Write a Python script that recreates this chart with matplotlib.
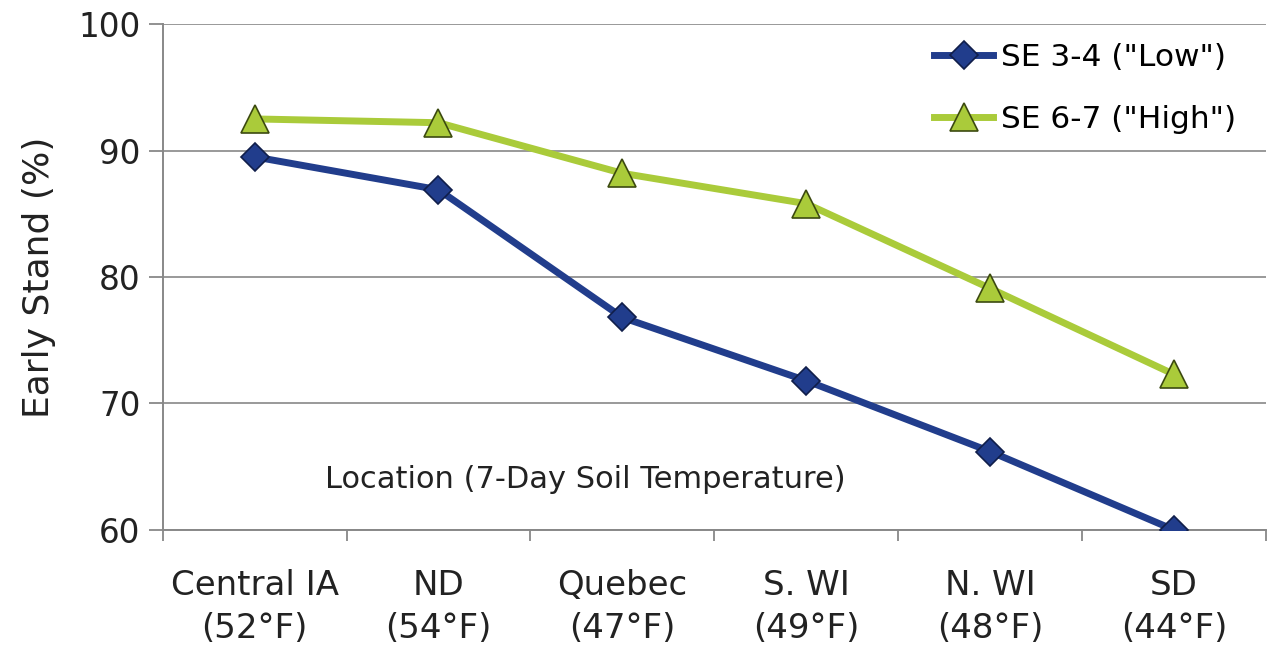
import numpy as np
import matplotlib.pyplot as plt

locations = ["Central IA\n(52°F)", "ND\n(54°F)", "Quebec\n(47°F)",
             "S. WI\n(49°F)", "N. WI\n(48°F)", "SD\n(44°F)"]
low_se = [89.5, 86.9, 76.8, 71.8, 66.2, 60.0]
high_se = [92.5, 92.2, 88.2, 85.8, 79.1, 72.3]

plt.rcParams["font.family"] = "DejaVu Sans"

fig = plt.figure(figsize=(12.71, 6.51), dpi=100)
ax = fig.add_axes([0.128, 0.186, 0.868, 0.777])

x = np.arange(len(locations))
ax.plot(x, low_se, color="#213d8c", lw=5, marker="D", ms=14,
        mfc="#213d8c", mec="#101e4a", mew=1.2, label='SE 3-4 ("Low")', zorder=3)
ax.plot(x, high_se, color="#aacb3a", lw=5, marker="^", ms=20,
        mfc="#aacb3a", mec="#3c4a10", mew=1.2, label='SE 6-7 ("High")', zorder=3)

ax.set_xlim(-0.5, len(locations) - 0.5)
ax.set_ylim(60, 100)
ax.set_yticks([60, 70, 80, 90, 100])
ax.set_xticks(x)
ax.set_xticklabels(locations, fontsize=24.5, color="#222222", linespacing=1.4)
ax.set_xticks(np.arange(-0.5, len(locations)), minor=True)
ax.tick_params(axis="x", which="major", length=0, pad=28)
ax.tick_params(axis="x", which="minor", length=8, width=1.3, color="#888888",
               direction="out")
ax.tick_params(axis="y", length=10, width=1.3, color="#888888",
               labelsize=23.5, labelcolor="#222222", pad=6)

ax.grid(axis="y", color="#999999", lw=1.4, zorder=0)
for side in ("top", "right"):
    ax.spines[side].set_visible(False)
for side in ("left", "bottom"):
    ax.spines[side].set_color("#888888")
    ax.spines[side].set_linewidth(1.4)

ax.set_ylabel("Early Stand (%)", fontsize=26, color="#222222", labelpad=16)
ax.text(0.383, 0.1, "Location (7-Day Soil Temperature)", transform=ax.transAxes,
        ha="center", va="center", fontsize=22, color="#222222")

ax.legend(loc="upper right", bbox_to_anchor=(0.99, 1.0), frameon=False,
          fontsize=22.5, handlelength=1.9, handletextpad=0.25, labelspacing=1.05,
          borderaxespad=0.2)

fig.savefig("out.png", dpi=100)
